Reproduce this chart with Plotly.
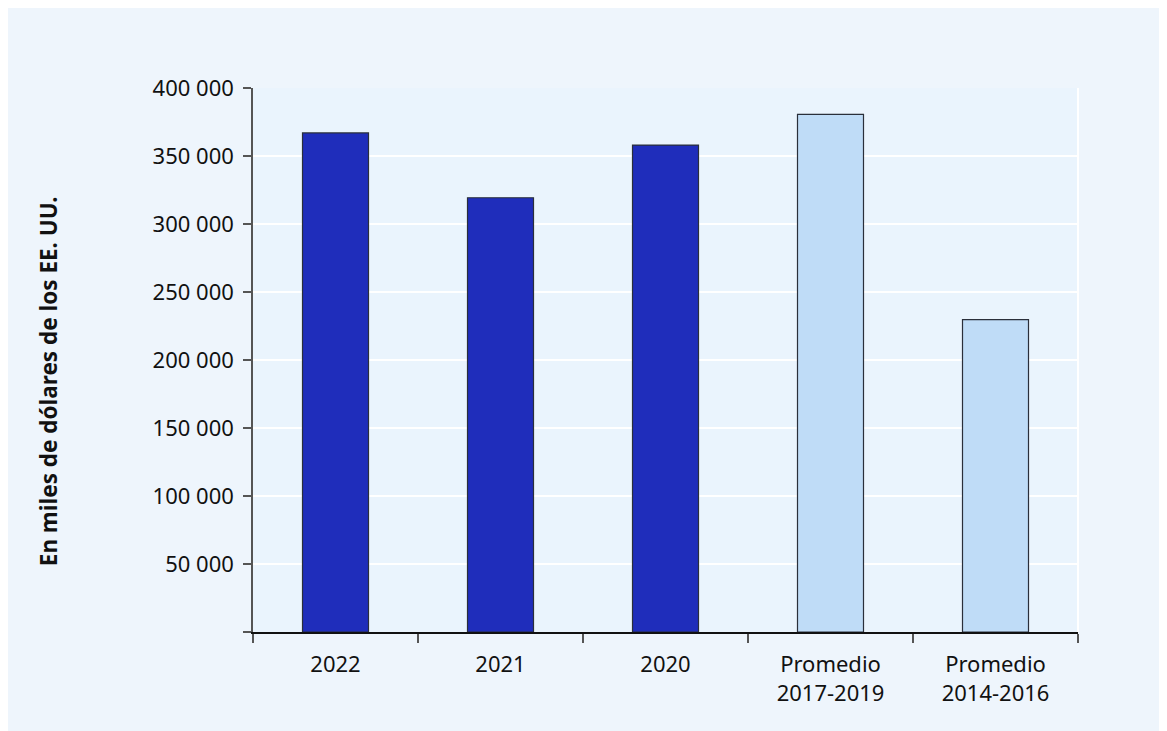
import plotly.graph_objects as go

categories = ["2022", "2021", "2020", "Promedio<br>2017-2019", "Promedio<br>2014-2016"]
values = [367000, 319300, 358000, 380600, 229700]
bar_colors = ["#1f2dbb", "#1f2dbb", "#1f2dbb", "#bfdcf7", "#bfdcf7"]
y_tickvals = [0, 50000, 100000, 150000, 200000, 250000, 300000, 350000, 400000]
y_ticktext = ["", "50 000", "100 000", "150 000", "200 000", "250 000", "300 000", "350 000", "400 000"]
y_title = "En miles de dólares de los EE. UU."

fig = go.Figure()
fig.add_trace(go.Bar(
    x=categories, y=values,
    marker=dict(color=bar_colors, line=dict(color="#2a2f3a", width=1.2)),
    width=0.4,
    hoverinfo="x+y",
))

FONT = "Noto Sans, Open Sans, sans-serif"

fig.update_layout(
    width=1167, height=731,
    margin=dict(l=245, r=97, t=80, b=107),
    paper_bgcolor="#eef5fc",
    plot_bgcolor="#eaf4fd",
    font=dict(family=FONT, size=22, color="#111111"),
    showlegend=False,
    bargap=0.6,
    shapes=[
        dict(type="line", xref="paper", yref="paper", x0=1, x1=1, y0=0, y1=1,
             line=dict(color="white", width=2), layer="above"),
    ],
    annotations=[
        dict(text="<b>" + y_title + "</b>", xref="paper", yref="paper",
             x=-0.2485, y=0.461, xanchor="center", yanchor="middle",
             textangle=-90, showarrow=False,
             font=dict(family=FONT, size=22.5, color="#111111")),
    ],
)

fig.update_xaxes(
    type="category",
    showline=True, linecolor="#111111", linewidth=1.5,
    ticks="outside", tickson="boundaries", ticklen=9, tickcolor="#555555", tickwidth=1.5,
    showgrid=False,
    ticklabelstandoff=12,
    tickfont=dict(family=FONT, size=22, color="#111111"),
)
fig.update_yaxes(
    range=[0, 400000],
    tickvals=y_tickvals, ticktext=y_ticktext,
    showline=True, linecolor="#555555", linewidth=1.5,
    ticks="outside", ticklen=8, tickcolor="#555555", tickwidth=1.5,
    showgrid=True, gridcolor="white", gridwidth=1.5,
    zeroline=False,
    ticklabelstandoff=5,
    tickfont=dict(family=FONT, size=22, color="#111111"),
)

fig.write_html("out.html")
